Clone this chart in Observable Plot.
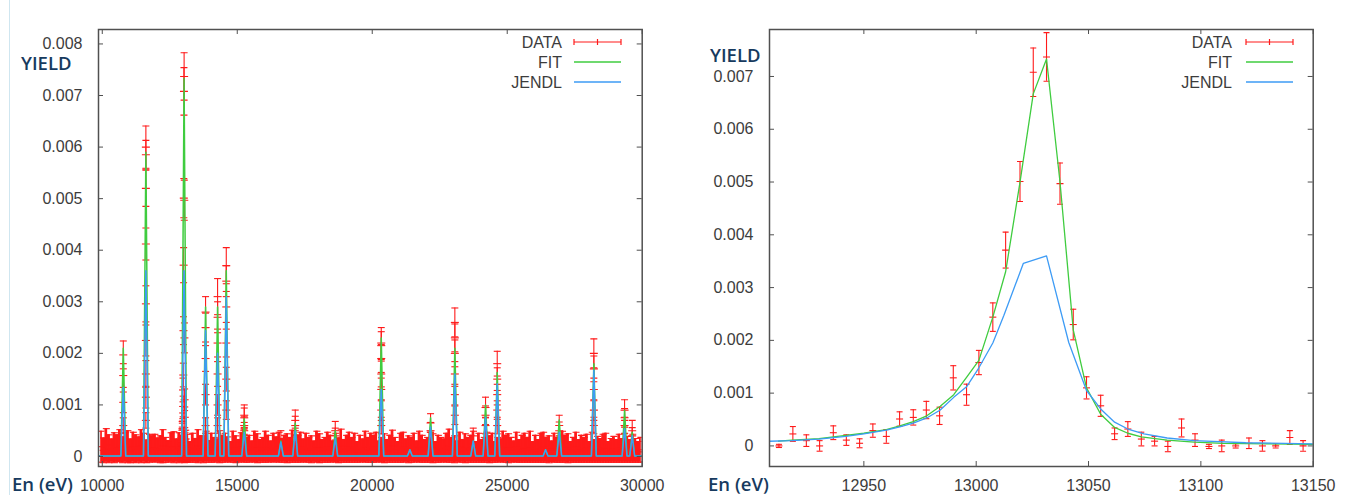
<!DOCTYPE html>
<html><head><meta charset="utf-8">
<script src="https://cdn.jsdelivr.net/npm/d3@7"></script>
<script src="https://cdn.jsdelivr.net/npm/@observablehq/plot@0.6"></script>
<style>
html,body{margin:0;padding:0;background:#fff;}
#root{position:relative;width:1350px;height:495px;overflow:hidden;background:#fff;font-family:"Liberation Sans",Arial,sans-serif;}
.panel{position:absolute;top:0;}
.axlab{position:absolute;font-family:"Open Sans",sans-serif;font-weight:600;color:#173a5e;font-size:18.5px;white-space:nowrap;line-height:1;}
.edge{position:absolute;left:9px;top:0;width:1px;height:495px;background:#cfe6f0;}
.legend{position:absolute;left:0;top:0;}
</style></head><body><div id="root"></div><script>
// ---------------- DATA ----------------
const yUnit = 1e-5;
// background measurement points (values and errors in units of 1e-5), one every 100 eV
const bgStartEnergy = 9950, bgStepEnergy = 100;
const bgValue = [
19,12,22,15,12,17,16,21,13,18,19,11,18,15,14,20,17,10,16,15,
16,13,14,20,13,10,18,18,12,17,15,19,16,9,17,12,20,15,14,19,
10,17,13,12,19,15,17,14,9,19,14,11,18,21,13,15,10,19,16,11,
13,19,15,10,17,14,18,11,15,16,13,20,9,15,18,12,17,13,14,10,
19,16,11,13,18,15,10,17,12,21,11,15,18,13,17,9,15,12,19,13,
17,15,18,10,13,16,11,15,20,13,9,17,18,12,14,13,17,10,19,15,
11,13,18,16,9,15,13,12,17,21,13,14,10,18,11,16,13,15,19,9,
17,11,13,18,14,17,9,13,12,19,15,16,13,10,18,11,15,17,13,19,
9,15,11,17,18,13,14,10,17,13,11,19,15,16,9,13,18,11,15,13,
16,9,18,11,14,12,16,17,9,12,14,11,16,12,17,14,11,16,12,9,
13];
const bgError = [
30,24,32,27,22,29,26,31,25,28,31,23,29,27,24,32,28,22,27,25,
27,23,26,32,24,21,28,30,22,29,25,31,27,20,28,23,32,25,26,30,
21,28,24,22,31,26,28,24,20,30,26,22,28,32,24,26,20,30,28,22,
24,30,26,20,28,24,29,22,26,28,24,31,20,26,29,22,28,24,26,20,
30,28,22,24,29,26,20,28,24,32,22,26,29,24,28,20,26,22,30,24,
28,26,29,20,24,28,22,26,31,24,20,28,29,22,26,24,28,20,30,26,
22,24,29,28,20,26,24,22,28,32,24,26,20,29,22,28,24,26,30,20,
28,22,24,29,26,28,20,24,22,30,26,28,24,20,29,22,26,28,24,30,
20,26,22,28,29,24,26,20,28,24,22,30,26,28,20,24,29,22,26,24,
27,20,29,22,25,23,27,28,20,23,25,22,27,23,28,25,22,27,23,20,
24];

// resonances seen in the full range (left panel)
const resEnergy    = [10778, 11615, 13030, 13826, 14271, 14593, 15259, 16615, 17148, 18630, 20334, 21394, 22160, 23060, 23741, 24197, 24630, 26420, 26926, 28209, 29347, 29630];
const resFitPeak   = [0.0021, 0.0059, 0.00733, 0.0029, 0.0029, 0.0036, 0.00073, 0.0003, 0.00065, 0.0005, 0.0023, 0.00013, 0.00075, 0.0021, 0.0003, 0.001, 0.00163, 0.00013, 0.00071, 0.0018, 0.00089, 0.00047];
const resJendlPeak = [0.00134, 0.0036, 0.0036, 0.00244, 0.002, 0.0031, 0.00047, 0.00028, 0.0005, 0.00035, 0.0013, 0.00013, 0.00057, 0.0016, 0.0003, 0.00076, 0.00141, 0.00013, 0.00047, 0.00167, 0.00054, 0.0004];
const baseLevel = 0.00001;

// data points on the resonances (left panel)
const peakPtEnergy = [10778, 11615, 13826, 14271, 14593, 15259, 16615, 17148, 18630, 20334, 22160, 23060, 23741, 24197, 24630, 26926, 28209, 29347, 29630];
const peakPtValues = [
  [0.00197, 0.00157, 0.00105, 0.0006],
  [0.0060, 0.00585, 0.0052, 0.00412, 0.00296, 0.00225, 0.0016, 0.00115, 0.0007],
  [0.0028, 0.0025, 0.0019, 0.0012, 0.0006],
  [0.0031, 0.0027, 0.0022, 0.0016, 0.001, 0.0006],
  [0.0037, 0.0034, 0.0029, 0.0022, 0.0015, 0.0009],
  [0.0008, 0.00075, 0.0006, 0.0005, 0.0004],
  [0.00035],
  [0.0007, 0.0006, 0.0004],
  [0.0005, 0.0004],
  [0.0022, 0.00215, 0.0019, 0.0016, 0.0013, 0.0009, 0.0006],
  [0.00065, 0.0005],
  [0.0026, 0.0023, 0.002, 0.0016, 0.0012, 0.0008],
  [0.0004],
  [0.00095, 0.0008, 0.0006],
  [0.0018, 0.0015, 0.0012, 0.0009, 0.0006],
  [0.0006, 0.0005],
  [0.002, 0.0017, 0.0013, 0.0009, 0.0006],
  [0.0009, 0.00075, 0.0006],
  [0.0005, 0.0004]];
const peakPtErrors = [
  [0.00027, 0.00023, 0.0002, 0.00015],
  [0.00041, 0.00028, 0.00035, 0.00031, 0.00035, 0.0003, 0.00026, 0.00021, 0.00015],
  [0.0003, 0.00028, 0.00025, 0.0002, 0.00015],
  [0.00035, 0.0003, 0.00027, 0.00024, 0.0002, 0.00015],
  [0.00035, 0.0003, 0.0003, 0.00027, 0.00023, 0.00018],
  [0.0002, 0.00019, 0.00017, 0.00016, 0.00015],
  [0.00015],
  [0.0002, 0.00018, 0.00015],
  [0.00018, 0.00015],
  [0.0003, 0.00027, 0.00027, 0.00025, 0.00022, 0.0002, 0.00016],
  [0.00018, 0.00016],
  [0.00028, 0.00027, 0.00026, 0.00024, 0.0002, 0.00018],
  [0.00015],
  [0.0002, 0.00018, 0.00016],
  [0.00024, 0.00022, 0.0002, 0.00018, 0.00016],
  [0.0002, 0.00017],
  [0.00028, 0.00025, 0.00022, 0.0002, 0.00016],
  [0.0002, 0.00018, 0.00016],
  [0.0002, 0.00016]];

// zoom on the 13 keV resonance (right panel)
const zoomEnergy = [12912.2, 12918.4, 12924.4, 12930.3, 12936.4, 12942.2, 12948.1, 12954.0, 12960.0, 12965.9, 12972.0, 12977.8, 12983.7, 12989.8, 12995.7, 13001.2, 13007.4, 13013.1, 13019.5, 13025.4, 13031.3, 13037.3, 13043.2, 13049.1, 13055.4, 13061.6, 13067.5, 13073.5, 13079.4, 13085.3, 13091.4, 13097.4, 13103.6, 13109.3, 13115.5, 13121.4, 13127.4, 13133.3, 13139.6, 13145.5];
const zoomValue  = [0.0, 0.000227, 0.0001, 0.0, 0.00025, 0.00011, 0.00005, 0.00029, 0.00018, 0.00051, 0.00054, 0.00068, 0.00057, 0.00129, 0.00097, 0.00158, 0.00244, 0.00371, 0.00501, 0.00708, 0.00737, 0.00497, 0.0023, 0.0011, 0.00076, 0.00023, 0.00032, 0.00013, 0.00009, -0.00001, 0.00034, 0.00011, -0.00001, 0.0, 0.0, 0.00005, 0.0, 0.0, 0.00016, 0.0];
const zoomError  = [0.00003, 0.00014, 0.00011, 0.0001, 0.00013, 0.0001, 0.000085, 0.000126, 0.00013, 0.000136, 0.000145, 0.000164, 0.000164, 0.00023, 0.0002, 0.00023, 0.00027, 0.00034, 0.00038, 0.00046, 0.00046, 0.00039, 0.00029, 0.00021, 0.0002, 0.00011, 0.00014, 0.00013, 0.00009, 0.0001, 0.00017, 0.00012, 0.00004, 0.00011, 0.00004, 0.0001, 0.0001, 0.00004, 0.00013, 0.0001];
const fitEnergy = [12912, 12918, 12930, 12942, 12950, 12960, 12966, 12972, 12978, 12984, 12990, 12995.7, 13001.2, 13007.4, 13013.1, 13019.5, 13025.4, 13031.3, 13037.3, 13043.2, 13049.1, 13055.4, 13061.6, 13067.5, 13073.5, 13085, 13097, 13110, 13130, 13150];
const fitValue  = [0.00009, 0.00011, 0.00014, 0.0002, 0.00024, 0.00031, 0.00038, 0.00046, 0.00057, 0.00075, 0.00097, 0.0013, 0.00162, 0.00244, 0.0033, 0.005, 0.00667, 0.00733, 0.005, 0.0022, 0.0011, 0.0006, 0.00035, 0.00024, 0.00017, 0.00011, 0.00007, 0.00005, 0.00004, 0.00003];
const jendlEnergy = [12900, 12918, 12930, 12942, 12950, 12960, 12966, 12972, 12978, 12984, 12990, 12995.7, 13001.2, 13007.4, 13012.3, 13021, 13031.3, 13041.2, 13049.1, 13055.4, 13061.6, 13067.5, 13074.7, 13085, 13097, 13120, 13150];
const jendlValue  = [0.00008, 0.0001, 0.00013, 0.00018, 0.00023, 0.0003, 0.00036, 0.00043, 0.00053, 0.00068, 0.00092, 0.00112, 0.00148, 0.00195, 0.00247, 0.00346, 0.0036, 0.00196, 0.00105, 0.0007, 0.00045, 0.00032, 0.00023, 0.00015, 0.0001, 0.00006, 0.00004];

// axis ticks
const leftXTicks = [10000, 15000, 20000, 25000, 30000];
const leftYTicks = [0, 0.001, 0.002, 0.003, 0.004, 0.005, 0.006, 0.007, 0.008];
const rightXTicks = [12950, 13000, 13050, 13100, 13150];
const rightYTicks = [0, 0.001, 0.002, 0.003, 0.004, 0.005, 0.006, 0.007];
const legendLabels = ["DATA", "FIT", "JENDL"];

// ---------------- BUILD ROWS ----------------
const RED = "#ff1a1a", GREEN = "#3fcc3f", BLUE = "#3d9bf5";
const bgRows = bgValue.map((v, i) => {
  const y = v * yUnit, e = bgError[i] * yUnit;
  return {E: bgStartEnergy + i * bgStepEnergy, y, lo: y - e, hi: y + e};
});
const peakRows = [];
peakPtEnergy.forEach((E, g) => peakPtValues[g].forEach((y, k) => {
  const e = peakPtErrors[g][k];
  peakRows.push({E, y, lo: y - e, hi: y + e});
}));
const zoomRows = zoomEnergy.map((E, i) => ({E, y: zoomValue[i], lo: zoomValue[i] - zoomError[i], hi: zoomValue[i] + zoomError[i]}));
const leftData = bgRows.concat(peakRows, zoomRows);

function spikes(peaks) {
  const pts = [{E: 9860, y: baseLevel}];
  resEnergy.forEach((E, i) => {
    pts.push({E: E - 90, y: baseLevel}, {E, y: peaks[i]}, {E: E + 90, y: baseLevel});
  });
  pts.push({E: 30000, y: baseLevel});
  return pts;
}
const leftFit = spikes(resFitPeak);
const leftJendl = spikes(resJendlPeak);
const rightFit = fitEnergy.map((E, i) => ({E, y: fitValue[i]}));
const rightJendl = jendlEnergy.map((E, i) => ({E, y: jendlValue[i]}));

// horizontal bar symbol for caps / centre markers
const hbar = {draw(ctx, size) { const r = Math.sqrt(size / Math.PI); ctx.moveTo(-r, 0); ctx.lineTo(r, 0); }};
const yFmt = d => d === 0 ? "0" : d.toFixed(3);

function panel({width, mL, mR, xDomain, yDomain, xTicks, yTicks, data, fit, jendl, cap, lineW, band}) {
  const H = 495, mT = 29, mB = 29;
  const innerH = H - mT - mB, innerW = width - mL - mR, t = 5;
  const marks = [];
  if (band) marks.push(Plot.areaY(band, {x: "E", y1: "lo", y2: "hi", curve: "step", fill: RED, clip: true}));
  marks.push(
    Plot.ruleX(data, {x: "E", y1: "lo", y2: "hi", stroke: RED, strokeWidth: 1.1, clip: true}),
    Plot.dot(data, {x: "E", y: "hi", symbol: hbar, r: cap, stroke: RED, fill: "none", strokeWidth: 1.1, clip: true}),
    Plot.dot(data, {x: "E", y: "lo", symbol: hbar, r: cap, stroke: RED, fill: "none", strokeWidth: 1.1, clip: true}),
    Plot.dot(data, {x: "E", y: "y", symbol: hbar, r: cap + 0.5, stroke: RED, fill: "none", strokeWidth: 1.1, clip: true}),
    Plot.line(fit, {x: "E", y: "y", stroke: GREEN, strokeWidth: lineW, clip: true}),
    Plot.line(jendl, {x: "E", y: "y", stroke: BLUE, strokeWidth: lineW, clip: true}),
    Plot.ruleX(xTicks, {x: d => d, insetTop: innerH - t, stroke: "#505050"}),
    Plot.ruleX(xTicks, {x: d => d, insetBottom: innerH - t, stroke: "#505050"}),
    Plot.ruleY(yTicks, {y: d => d, insetRight: innerW - t, stroke: "#505050"}),
    Plot.ruleY(yTicks, {y: d => d, insetLeft: innerW - t, stroke: "#505050"}),
    Plot.frame({stroke: "#505050", strokeWidth: 1.5}),
    Plot.axisX(xTicks, {tickSize: 0, tickPadding: 13, tickFormat: d => String(d), label: null}),
    Plot.axisY(yTicks, {tickSize: 0, tickPadding: 16, tickFormat: yFmt, label: null})
  );
  return Plot.plot({
    width, height: H, marginLeft: mL, marginRight: mR, marginTop: mT, marginBottom: mB,
    x: {domain: xDomain}, y: {domain: yDomain},
    style: {background: "transparent", fontFamily: "'Liberation Sans', Arial, sans-serif", fontSize: "16px", color: "#3c3c3c", overflow: "visible"},
    marks
  });
}

const root = document.getElementById("root");
const edge = document.createElement("div"); edge.className = "edge"; root.appendChild(edge);

const left = panel({width: 670, mL: 98, mR: 28.3, xDomain: [9860, 30000], yDomain: [-0.000194, 0.00828],
  xTicks: leftXTicks, yTicks: leftYTicks, data: leftData, fit: leftFit, jendl: leftJendl, cap: 3.5, lineW: 1.5, band: bgRows});
left.classList.add("panel"); left.style.left = "0px"; root.appendChild(left);

const right = panel({width: 675, mL: 94, mR: 37.3, xDomain: [12908, 13150], yDomain: [-0.00039, 0.00789],
  xTicks: rightXTicks, yTicks: rightYTicks, data: zoomRows, fit: rightFit, jendl: rightJendl, cap: 3, lineW: 1.3, band: null});
right.classList.add("panel"); right.style.left = "675px"; root.appendChild(right);

// axis titles (slide overlay text)
function addLabel(text, x, baseline) {
  const d = document.createElement("div"); d.className = "axlab"; d.textContent = text;
  d.style.left = x + "px"; d.style.top = (baseline - 14) + "px"; root.appendChild(d);
}
addLabel("YIELD", 21, 68);
addLabel("YIELD", 710, 60);
addLabel("En (eV)", 12, 489);
addLabel("En (eV)", 708, 489);

// legends
function legend(textRight, x1, x2) {
  const ys = [42, 62, 82];
  const xm = (x1 + x2) / 2;
  let s = "";
  legendLabels.forEach((lab, i) => {
    s += `<text x="${textRight}" y="${ys[i]}" dy="0.36em" text-anchor="end" fill="#3c3c3c" font-size="16" font-family="'Liberation Sans', Arial, sans-serif">${lab}</text>`;
  });
  s += `<g stroke="${RED}" stroke-width="1.2"><line x1="${x1}" x2="${x2}" y1="${ys[0]}" y2="${ys[0]}"/><line x1="${x1}" x2="${x1}" y1="${ys[0]-3}" y2="${ys[0]+3}"/><line x1="${x2}" x2="${x2}" y1="${ys[0]-3}" y2="${ys[0]+3}"/><line x1="${xm}" x2="${xm}" y1="${ys[0]-3}" y2="${ys[0]+3}"/></g>`;
  s += `<line x1="${x1}" x2="${x2}" y1="${ys[1]}" y2="${ys[1]}" stroke="${GREEN}" stroke-width="1.5"/>`;
  s += `<line x1="${x1}" x2="${x2}" y1="${ys[2]}" y2="${ys[2]}" stroke="${BLUE}" stroke-width="1.5"/>`;
  return s;
}
const lg = document.createElementNS("http://www.w3.org/2000/svg", "svg");
lg.setAttribute("width", 1350); lg.setAttribute("height", 495); lg.setAttribute("class", "legend");
lg.style.position = "absolute"; lg.style.left = "0"; lg.style.top = "0";
lg.innerHTML = legend(562, 574, 621) + legend(1232, 1246, 1293);
root.appendChild(lg);
</script></body></html>
